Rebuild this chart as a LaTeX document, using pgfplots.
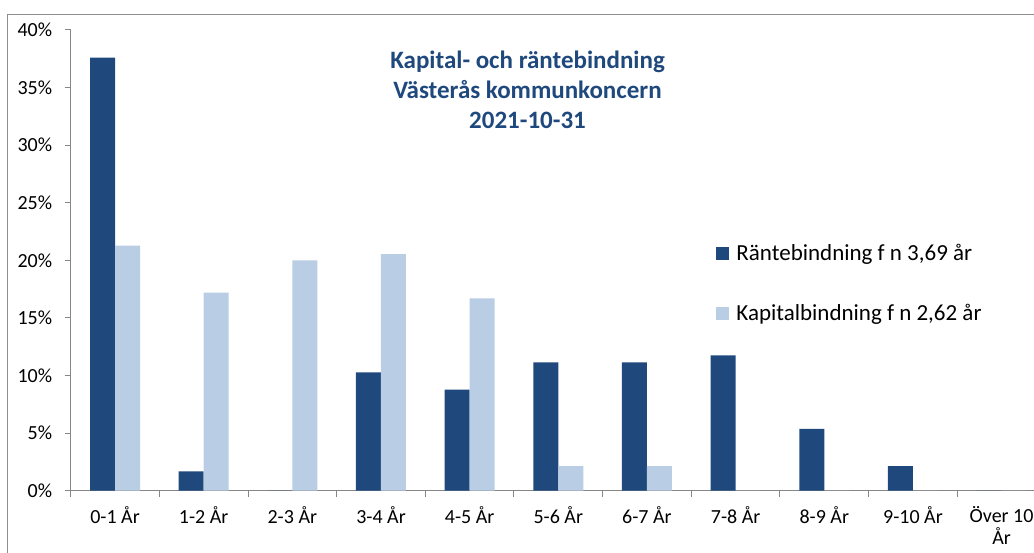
\documentclass[border=0pt]{standalone}
\usepackage{fontspec}
\setmainfont{Carlito}
\usepackage{pgfplots}
\pgfplotsset{compat=1.18}
\definecolor{darkb}{HTML}{1F497D}
\definecolor{lightb}{HTML}{B9CDE5}
\definecolor{axgray}{HTML}{868686}
\definecolor{framegray}{HTML}{8E8E8E}
\begin{document}
\begin{tikzpicture}[x=1pt,y=1pt]
\useasboundingbox (0,0) rectangle (1034,552);
\clip (0,0) rectangle (1034,552);
\fill[white] (0,0) rectangle (1034,552);
\draw[framegray, line width=1pt] (7.3,537.7) rectangle (1100,-50);
\begin{axis}[
  at={(70.7pt,61.3pt)}, anchor=south west,
  scale only axis, width=975.2pt, height=460.7pt,
  xmin=-0.5, xmax=10.5, ymin=0, ymax=40,
  axis lines*=left,
  axis line style={axgray, line width=1pt},
  tick align=outside,
  xtick={0,1,...,10},
  xticklabels={0-1 År,1-2 År,2-3 År,3-4 År,4-5 År,5-6 År,6-7 År,7-8 År,8-9 År,9-10 År,{Över 10\\År}},
  minor xtick={-0.5,0.5,...,10.5},
  major x tick style={draw=none},
  minor x tick style={axgray, line width=1pt},
  minor tick length=6pt,
  major tick length=6pt,
  ytick={0,5,...,40},
  y tick style={axgray, line width=1pt},
  yticklabel={\pgfmathprintnumber{\tick}\%},
  /pgf/number format/assume math mode=true,
  tick label style={font=\fontsize{20}{22}\selectfont, text=black},
  xticklabel style={align=center, yshift=-6pt},
  yticklabel style={xshift=-9pt},
  legend style={draw=none, fill=none, at={(0.662,0.54)}, anchor=north west,
    font=\fontsize{23}{27}\selectfont, row sep=37pt, column sep=5pt, inner sep=0pt,
    nodes={inner sep=2.5pt}},
  legend cell align=left,
  legend image code/.code={\fill[#1] (0pt,-6.25pt) rectangle (12.5pt,6.25pt);},
  clip=false,
]
\addplot[ybar, fill=darkb, draw=none, bar width=0.282, bar shift=-0.141] coordinates {
 (0,37.60) (1,1.68) (2,0) (3,10.28) (4,8.77) (5,11.14) (6,11.14) (7,11.75) (8,5.36) (9,2.14) (10,0)};
\addplot[ybar, fill=lightb, draw=none, bar width=0.282, bar shift=0.141] coordinates {
 (0,21.27) (1,17.19) (2,20.00) (3,20.55) (4,16.70) (5,2.14) (6,2.14) (7,0) (8,0) (9,0) (10,0)};
\legend{{Räntebindning f n 3,69 år}, {Kapitalbindning f n 2,62 år}}
\end{axis}
\begin{scope}[every node/.style={font=\bfseries\fontsize{25}{30}\selectfont, text=darkb, anchor=base, inner sep=0pt}]
\node at (527.5,483) {Kapital- och räntebindning};
\node at (527.5,453) {Västerås kommunkoncern};
\node at (527.5,423) {2021-10-31};
\end{scope}
\end{tikzpicture}
\end{document}
